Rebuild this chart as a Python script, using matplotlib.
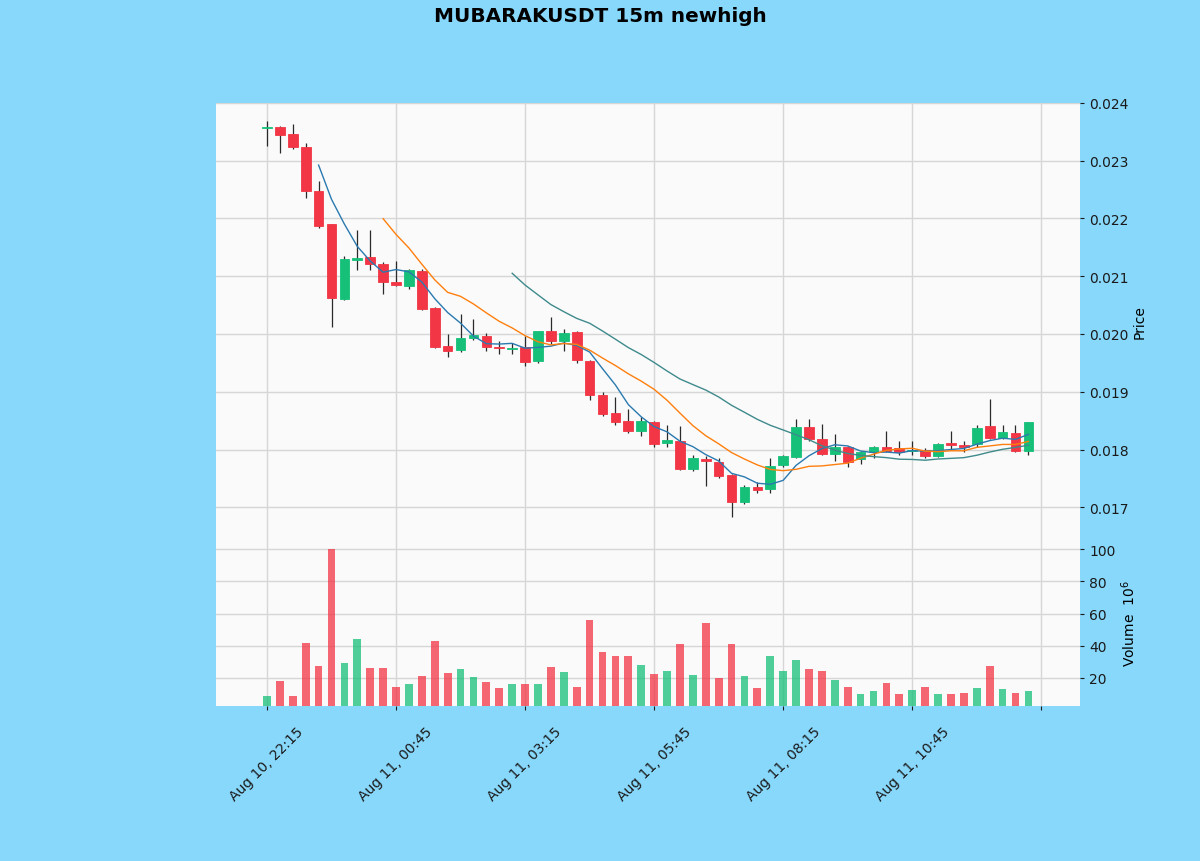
import numpy as np
import pandas as pd
import matplotlib
matplotlib.use("Agg")
import matplotlib.pyplot as plt
from matplotlib.patches import Rectangle

opens = [0.02357, 0.02358, 0.02346, 0.02324, 0.02248, 0.02190, 0.02060, 0.02128, 0.02133, 0.02122,
         0.02090, 0.02083, 0.02109, 0.02045, 0.01979, 0.01972, 0.01993, 0.01996, 0.01978, 0.01974,
         0.01977, 0.01953, 0.02005, 0.01988, 0.02003, 0.01953, 0.01894, 0.01863, 0.01849, 0.01832,
         0.01847, 0.01811, 0.01814, 0.01766, 0.01783, 0.01778, 0.01756, 0.01709, 0.01735, 0.01731,
         0.01773, 0.01787, 0.01839, 0.01818, 0.01792, 0.01804, 0.01783, 0.01795, 0.01804, 0.01802,
         0.01798, 0.01799, 0.01789, 0.01811, 0.01807, 0.01809, 0.01840, 0.01820, 0.01828, 0.01797]
highs = [0.02368, 0.02360, 0.02363, 0.02330, 0.02265, 0.02190, 0.02135, 0.02180, 0.02180, 0.02125,
         0.02126, 0.02112, 0.02112, 0.02046, 0.02000, 0.02034, 0.02026, 0.02002, 0.01988, 0.01985,
         0.01996, 0.02006, 0.02030, 0.02008, 0.02005, 0.01955, 0.01900, 0.01891, 0.01870, 0.01856,
         0.01850, 0.01843, 0.01840, 0.01790, 0.01788, 0.01785, 0.01757, 0.01738, 0.01744, 0.01786,
         0.01791, 0.01853, 0.01853, 0.01844, 0.01826, 0.01806, 0.01797, 0.01806, 0.01832, 0.01815,
         0.01815, 0.01803, 0.01812, 0.01832, 0.01815, 0.01843, 0.01887, 0.01843, 0.01843, 0.01848]
lows = [0.02325, 0.02313, 0.02320, 0.02235, 0.02183, 0.02012, 0.02058, 0.02110, 0.02110, 0.02069,
        0.02083, 0.02078, 0.02041, 0.01975, 0.01960, 0.01968, 0.01990, 0.01970, 0.01966, 0.01965,
        0.01945, 0.01950, 0.01983, 0.01970, 0.01950, 0.01885, 0.01858, 0.01843, 0.01828, 0.01823,
        0.01805, 0.01805, 0.01765, 0.01762, 0.01736, 0.01750, 0.01684, 0.01705, 0.01724, 0.01725,
        0.01770, 0.01785, 0.01815, 0.01790, 0.01780, 0.01770, 0.01775, 0.01785, 0.01795, 0.01790,
        0.01790, 0.01785, 0.01787, 0.01800, 0.01795, 0.01805, 0.01818, 0.01818, 0.01795, 0.01790]
closes = [0.02358, 0.02345, 0.02324, 0.02248, 0.02187, 0.02062, 0.02130, 0.02131, 0.02122, 0.02090,
          0.02085, 0.02110, 0.02043, 0.01978, 0.01970, 0.01993, 0.01998, 0.01977, 0.01975, 0.01976,
          0.01951, 0.02005, 0.01988, 0.02002, 0.01955, 0.01894, 0.01861, 0.01847, 0.01832, 0.01849,
          0.01809, 0.01816, 0.01766, 0.01785, 0.01780, 0.01754, 0.01709, 0.01735, 0.01730, 0.01771,
          0.01788, 0.01839, 0.01818, 0.01792, 0.01804, 0.01778, 0.01795, 0.01804, 0.01797, 0.01795,
          0.01800, 0.01789, 0.01809, 0.01807, 0.01804, 0.01837, 0.01820, 0.01830, 0.01797, 0.01847]
volumes_m = [8.6, 18.3, 8.6, 41.7, 27.2, 100.0, 29.3, 44.2, 26.2, 26.2,
             14.2, 16.3, 21.4, 43.1, 22.9, 25.6, 20.8, 17.7, 13.8, 16.3,
             16.3, 16.3, 27.0, 23.9, 14.6, 56.0, 35.9, 33.4, 33.8, 28.1,
             22.5, 24.3, 41.1, 21.9, 53.9, 20.2, 41.1, 21.0, 13.8, 33.4,
             24.3, 31.2, 25.6, 24.3, 18.6, 14.4, 10.1, 11.7, 16.9, 10.1,
             12.8, 14.4, 10.1, 10.1, 10.7, 13.8, 27.4, 13.2, 10.7, 11.7]
mav_periods = [5, 10, 20]
start_time = "2025-08-10 22:15"
freq = "15min"
title = "MUBARAKUSDT 15m newhigh"

times = pd.date_range(start_time, periods=len(closes), freq=freq)
df = pd.DataFrame({"Open": opens, "High": highs, "Low": lows, "Close": closes,
                   "Volume": volumes_m}, index=times)

UP = "#16c079"
DOWN = "#f23645"
WICK = "#2a2a2a"
MAV_COLORS = ["#2a7ab0", "#ff7f0e", "#3f8a8c"]
FIG_BG = "#88d8fc"
AX_BG = "#fafafa"
GRID = "#d6d6d6"

fig = plt.figure(figsize=(12, 8.62), dpi=100, facecolor=FIG_BG)
ax = fig.add_axes([0.18, 0.3735, 0.72, 0.8794 - 0.3735])
axv = fig.add_axes([0.18, 0.1798, 0.72, 0.3735 - 0.1798], sharex=ax)

n = len(df)
x = np.arange(n)
bw = 0.75
for i in range(n):
    o, h, l, c = df.Open.iloc[i], df.High.iloc[i], df.Low.iloc[i], df.Close.iloc[i]
    col = UP if c >= o else DOWN
    ax.vlines(x[i], l, h, color=WICK, linewidth=0.9, zorder=2)
    bottom = min(o, c)
    height = max(abs(c - o), 0.000012)
    ax.add_patch(Rectangle((x[i] - bw / 2, bottom), bw, height, facecolor=col,
                           edgecolor=col, linewidth=0.6, zorder=3))
    axv.bar(x[i], df.Volume.iloc[i], width=0.6, color=col, alpha=0.75, zorder=3)

for p, mc in zip(mav_periods, MAV_COLORS):
    ma = df.Close.rolling(p).mean()
    ax.plot(x, ma.values, color=mc, linewidth=1.0, zorder=4)

for a in (ax, axv):
    a.set_facecolor(AX_BG)
    a.grid(True, color=GRID, linewidth=1.0, zorder=0)
    a.set_axisbelow(True)
    a.yaxis.tick_right()
    a.yaxis.set_label_position("right")
    for s in a.spines.values():
        s.set_visible(False)
    a.tick_params(labelsize=10, colors="#1a1a1a", length=3)

ax.set_xlim(-3.95, 63.0)
ax.set_ylim(0.01645, 0.0240)
ax.set_yticks([0.017, 0.018, 0.019, 0.020, 0.021, 0.022, 0.023, 0.024])
ax.set_yticklabels(["0.017", "0.018", "0.019", "0.020", "0.021", "0.022", "0.023", "0.024"])
ax.set_ylabel("Price", fontsize=10, labelpad=3)
ax.tick_params(axis="x", labelbottom=False, length=0)

axv.set_ylim(2.6, 106.2)
axv.set_yticks([20, 40, 60, 80, 100])
axv.set_ylabel("Volume  $10^{6}$", fontsize=10, labelpad=3)

tick_idx = list(range(0, n + 1, 10))
tick_lbl = [times[i].strftime("%b %d, %H:%M") if i < n else "" for i in tick_idx]
axv.set_xticks(tick_idx)
axv.set_xticklabels(tick_lbl, rotation=45, ha="center")
axv.tick_params(axis="x", pad=10)

fig.suptitle(title, fontsize=14.4, fontweight="bold", y=0.992)
fig.savefig("out.png", dpi=100, facecolor=FIG_BG)
